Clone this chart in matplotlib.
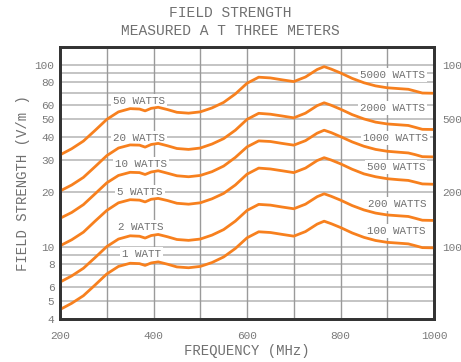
import matplotlib
matplotlib.use("Agg")
import matplotlib.pyplot as plt
from matplotlib.ticker import FixedLocator, NullLocator, FixedFormatter

# frequency in MHz
freq = [200, 225, 250, 275, 300, 325, 350, 370, 382, 395, 410, 430, 450, 475, 500,
        525, 550, 575, 600, 625, 650, 675, 700, 725, 750, 765, 780, 800, 825, 850,
        875, 900, 925, 945, 960, 975, 1000]

# field strength (V/m) for each curve
fs_50w = [31.9, 34.5, 38.0, 43.5, 50.0, 55.0, 57.3, 57.0, 55.7, 57.5, 58.3, 56.6, 54.7, 54.1, 55.0,
          57.8, 62.0, 69.0, 79.0, 85.3, 84.5, 82.5, 80.7, 85.5, 94.0, 97.5, 94.5, 90.0, 84.0, 79.5,
          76.4, 74.6, 73.8, 73.2, 71.5, 69.8, 69.6]
fs_20w = [20.2, 21.8, 24.0, 27.5, 31.6, 34.8, 36.2, 36.1, 35.2, 36.4, 36.9, 35.8, 34.6, 34.2, 34.8,
          36.6, 39.2, 43.6, 50.0, 54.0, 53.4, 52.2, 51.0, 54.1, 59.5, 61.7, 59.8, 56.9, 53.1, 50.3,
          48.3, 47.2, 46.7, 46.3, 45.2, 44.1, 44.0]
fs_10w = [14.3, 15.4, 17.0, 19.5, 22.4, 24.6, 25.6, 25.5, 24.9, 25.7, 26.1, 25.3, 24.5, 24.2, 24.6,
          25.8, 27.7, 30.9, 35.3, 38.1, 37.8, 36.9, 36.1, 38.2, 42.0, 43.6, 42.3, 40.2, 37.6, 35.6,
          34.2, 33.4, 33.0, 32.7, 32.0, 31.2, 31.1]
fs_5w = [10.1, 10.9, 12.0, 13.8, 15.8, 17.4, 18.1, 18.0, 17.6, 18.2, 18.4, 17.9, 17.3, 17.1, 17.4,
         18.3, 19.6, 21.8, 25.0, 27.0, 26.7, 26.1, 25.5, 27.0, 29.7, 30.8, 29.9, 28.5, 26.6, 25.1,
         24.2, 23.6, 23.3, 23.1, 22.6, 22.1, 22.0]
fs_2w = [6.38, 6.90, 7.60, 8.70, 10.0, 11.0, 11.46, 11.4, 11.14, 11.5, 11.66, 11.32, 10.94, 10.82, 11.0,
         11.56, 12.4, 13.8, 15.8, 17.06, 16.9, 16.5, 16.14, 17.1, 18.8, 19.5, 18.9, 18.0, 16.8, 15.9,
         15.28, 14.92, 14.76, 14.64, 14.3, 13.96, 13.92]
fs_1w = [4.51, 4.88, 5.37, 6.15, 7.07, 7.78, 8.10, 8.06, 7.88, 8.13, 8.24, 8.00, 7.73, 7.65, 7.78,
         8.17, 8.77, 9.76, 11.17, 12.06, 11.95, 11.67, 11.41, 12.09, 13.29, 13.79, 13.36, 12.73, 11.88, 11.24,
         10.80, 10.55, 10.44, 10.35, 10.11, 9.87, 9.84]

left_labels = ["50 WATTS", "20 WATTS", "10 WATTS", "5 WATTS", "2 WATTS", "1 WATT"]
right_labels = ["5000 WATTS", "2000 WATTS", "1000 WATTS", "500 WATTS", "200 WATTS", "100 WATTS"]

y_ticks = [4, 5, 6, 8, 10, 20, 30, 40, 50, 60, 80, 100]
y_grid = [5, 6, 7, 8, 9, 10, 20, 30, 40, 50, 60, 70, 80, 90, 100]
x_ticks = [200, 400, 600, 800, 1000]
x_grid = [300, 400, 500, 600, 700, 800, 900]
right_ticks = [100, 50, 20, 10]
right_ticklabels = ["1000", "500", "200", "100"]

mono = "Liberation Mono"
txt = "#707070"
orange = "#f7801e"

fig = plt.figure(figsize=(4.61, 3.62), dpi=100)
ax = fig.add_axes([0.1302, 0.1188, 0.8113, 0.7514])
ax.set_yscale("log")
ax.set_xlim(200, 1000)
ax.set_ylim(4, 125)

for v in y_grid:
    ax.axhline(v, color="#c4c4c4", lw=1.4, zorder=1)
for v in x_grid:
    ax.axvline(v, color="#9a9a9a", lw=1.0, zorder=1)

for fs in [fs_50w, fs_20w, fs_10w, fs_5w, fs_2w, fs_1w]:
    ax.plot(freq, fs, color=orange, lw=2, zorder=3, solid_capstyle="round",
            solid_joinstyle="round")

box = dict(facecolor="white", edgecolor="none", pad=1.5)
left_pos = [(369, 63.4), (369, 39.7), (373, 28.3), (371, 20.0), (372, 12.8), (375, 9.1)]
right_pos = [(911, 87.8), (911, 58.0), (918, 39.7), (919, 27.3), (922, 17.1), (919, 12.2)]
for lab, (x, y) in zip(left_labels, left_pos):
    ax.text(x, y, lab, ha="center", va="center", family=mono, fontsize=7.8,
            color=txt, bbox=box, zorder=2)
for lab, (x, y) in zip(right_labels, right_pos):
    ax.text(x, y, lab, ha="center", va="center", family=mono, fontsize=7.8,
            color=txt, bbox=box, zorder=2)

ax.yaxis.set_major_locator(FixedLocator(y_ticks))
ax.yaxis.set_major_formatter(FixedFormatter([str(t) for t in y_ticks]))
ax.yaxis.set_minor_locator(NullLocator())
ax.set_xticks(x_ticks)
ax.tick_params(length=0, labelsize=8, labelcolor="#7a7a7a", pad=4)
for lab in ax.get_xticklabels() + ax.get_yticklabels():
    lab.set_family(mono)
ax.tick_params(axis="x", pad=9)

ax2 = ax.twinx()
ax2.set_yscale("log")
ax2.set_ylim(4, 125)
ax2.yaxis.set_major_locator(FixedLocator(right_ticks))
ax2.yaxis.set_major_formatter(FixedFormatter(right_ticklabels))
ax2.yaxis.set_minor_locator(NullLocator())
ax2.tick_params(length=0, labelsize=8, labelcolor="#7a7a7a", pad=6)
for lab in ax2.get_yticklabels():
    lab.set_family(mono)

for a in (ax, ax2):
    for s in a.spines.values():
        s.set_color("#333333")
        s.set_linewidth(2)

ax.set_xlabel("FREQUENCY (MHz)", family=mono, fontsize=10, color=txt, labelpad=2)
ax.set_ylabel("FIELD STRENGTH (V/m )", family=mono, fontsize=10, color=txt, labelpad=3)
fig.text(0.5, 0.964, "FIELD STRENGTH", ha="center", va="center", family=mono,
         fontsize=10.5, color=txt)
fig.text(0.5, 0.914, "MEASURED A T THREE METERS", ha="center", va="center", family=mono,
         fontsize=10.5, color=txt)

fig.savefig("out.png", dpi=100)
